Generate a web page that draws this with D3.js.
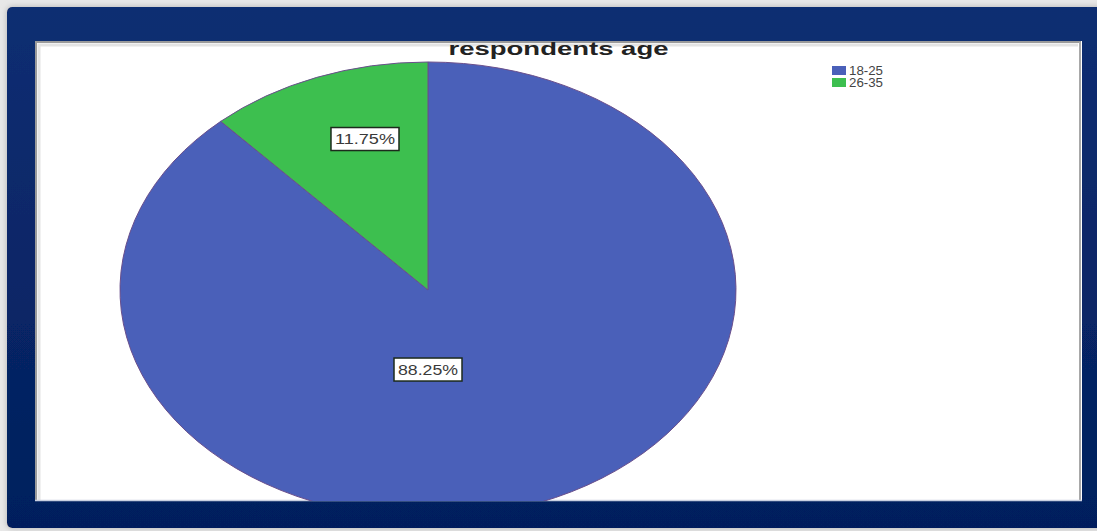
<!DOCTYPE html>
<html>
<head>
<meta charset="utf-8">
<script src="https://cdn.jsdelivr.net/npm/d3@7"></script>
<style>
  html, body { margin: 0; padding: 0; background: #e8e8e8; }
  svg { display: block; }
  text { font-family: "Liberation Sans", Arial, sans-serif; }
</style>
</head>
<body>
<svg id="chart" width="1097" height="531"></svg>
<script>
// chart data
const ageGroups = ["18-25", "26-35"];
const agePercents = [88.25, 11.75];
const sliceColors = ["#4a60b9", "#3dbf4f"];
const chartTitle = "respondents age";

// label placement along each slice's mid angle (fraction of radius in x, y)
const labelK = [[0.0, 0.374], [0.567, 0.71]];

const W = 1097, H = 531;
const panel = {x: 35, y: 41, w: 1047, h: 460};
const cx = 428, cy = 290, rx = 308, ry = 228;

const svg = d3.select("#chart");
const defs = svg.append("defs");

const navyGrad = defs.append("linearGradient").attr("id", "navy")
  .attr("x1", 0).attr("y1", 0).attr("x2", 0).attr("y2", 1);
navyGrad.append("stop").attr("offset", 0).attr("stop-color", "#0d2e72");
navyGrad.append("stop").attr("offset", 1).attr("stop-color", "#031f5d");

const shadow = defs.append("filter").attr("id", "glow")
  .attr("x", -0.05).attr("y", -0.05).attr("width", 1.1).attr("height", 1.1);
shadow.append("feGaussianBlur").attr("in", "SourceAlpha").attr("stdDeviation", 3).attr("result", "b");
shadow.append("feFlood").attr("flood-color", "#b0b0b0").attr("result", "c");
shadow.append("feComposite").attr("in", "c").attr("in2", "b").attr("operator", "in").attr("result", "s");
const merge = shadow.append("feMerge");
merge.append("feMergeNode").attr("in", "s");
merge.append("feMergeNode").attr("in", "SourceGraphic");

defs.append("clipPath").attr("id", "panelClip")
  .append("rect").attr("x", panel.x + 1).attr("y", panel.y + 1)
  .attr("width", panel.w - 2).attr("height", panel.h - 1);

// navy frame
svg.append("rect")
  .attr("x", 7).attr("y", 7).attr("width", W + 10).attr("height", 521)
  .attr("rx", 5)
  .attr("fill", "url(#navy)")
  .attr("filter", "url(#glow)");

// white panel with bevel
svg.append("rect")
  .attr("x", panel.x).attr("y", panel.y).attr("width", panel.w).attr("height", panel.h)
  .attr("fill", "#ffffff");
svg.append("path")
  .attr("d", `M${panel.x + 1},${panel.y + panel.h}V${panel.y + 1}H${panel.x + panel.w - 1}`)
  .attr("fill", "none").attr("stroke", "#9a9a9a").attr("stroke-width", 2);
svg.append("path")
  .attr("d", `M${panel.x + 4},${panel.y + panel.h}V${panel.y + 4}H${panel.x + panel.w - 4}`)
  .attr("fill", "none").attr("stroke", "#e4e4e4").attr("stroke-width", 3);
svg.append("path")
  .attr("d", `M${panel.x + panel.w - 2},${panel.y + 1}V${panel.y + panel.h}`)
  .attr("fill", "none").attr("stroke", "#a8a8a8").attr("stroke-width", 2);
svg.append("path")
  .attr("d", `M${panel.x},${panel.y + panel.h - 0.5}H${panel.x + panel.w}`)
  .attr("fill", "none").attr("stroke", "#c9cfe0").attr("stroke-width", 1.5);

// pie
const pie = d3.pie().sort(null).value(d => d.value);
const arcs = pie(ageGroups.map((g, i) => ({group: g, value: agePercents[i], color: sliceColors[i]})));
const arc = d3.arc().innerRadius(0).outerRadius(rx);

const pieG = svg.append("g").attr("clip-path", "url(#panelClip)")
  .append("g")
  .attr("transform", `translate(${cx},${cy}) scale(1,${ry / rx})`);

pieG.selectAll("path.slice")
  .data(arcs)
  .join("path")
  .attr("class", "slice")
  .attr("d", arc)
  .attr("fill", d => d.data.color)
  .attr("stroke", "#6a4f8c")
  .attr("stroke-width", 1)
  .attr("vector-effect", "non-scaling-stroke");

// percentage labels
const fmt = d3.format(".2f");
arcs.forEach((d, i) => {
  const mid = (d.startAngle + d.endAngle) / 2;
  const lx = cx + rx * labelK[i][0] * Math.sin(mid);
  const ly = cy - ry * labelK[i][1] * Math.cos(mid);
  const g = svg.append("g").attr("transform", `translate(${lx},${ly})`);
  g.append("rect")
    .attr("x", -34).attr("y", -11.5).attr("width", 68).attr("height", 23)
    .attr("fill", "#ffffff").attr("stroke", "#1c2a1c").attr("stroke-width", 1.5);
  g.append("text")
    .attr("x", 0).attr("y", 5)
    .attr("text-anchor", "middle")
    .attr("font-size", 14)
    .attr("fill", "#3a3a3a")
    .attr("textLength", 60).attr("lengthAdjust", "spacingAndGlyphs")
    .text(fmt(d.data.value) + "%");
});

// title
svg.append("text")
  .attr("x", panel.x + panel.w / 2).attr("y", 55)
  .attr("text-anchor", "middle")
  .attr("font-size", 18).attr("font-weight", "bold")
  .attr("fill", "#222222")
  .attr("textLength", 220).attr("lengthAdjust", "spacingAndGlyphs")
  .text(chartTitle);

// legend
const legend = svg.append("g").attr("transform", "translate(832,66)");
const legRow = legend.selectAll("g")
  .data(ageGroups)
  .join("g")
  .attr("transform", (d, i) => `translate(0,${i * 12})`);
legRow.append("rect")
  .attr("width", 14).attr("height", 9)
  .attr("fill", (d, i) => sliceColors[i]);
legRow.append("text")
  .attr("x", 17).attr("y", 9)
  .attr("font-size", 12)
  .attr("fill", "#444444")
  .attr("textLength", 34).attr("lengthAdjust", "spacingAndGlyphs")
  .text(d => d);
</script>
</body>
</html>
